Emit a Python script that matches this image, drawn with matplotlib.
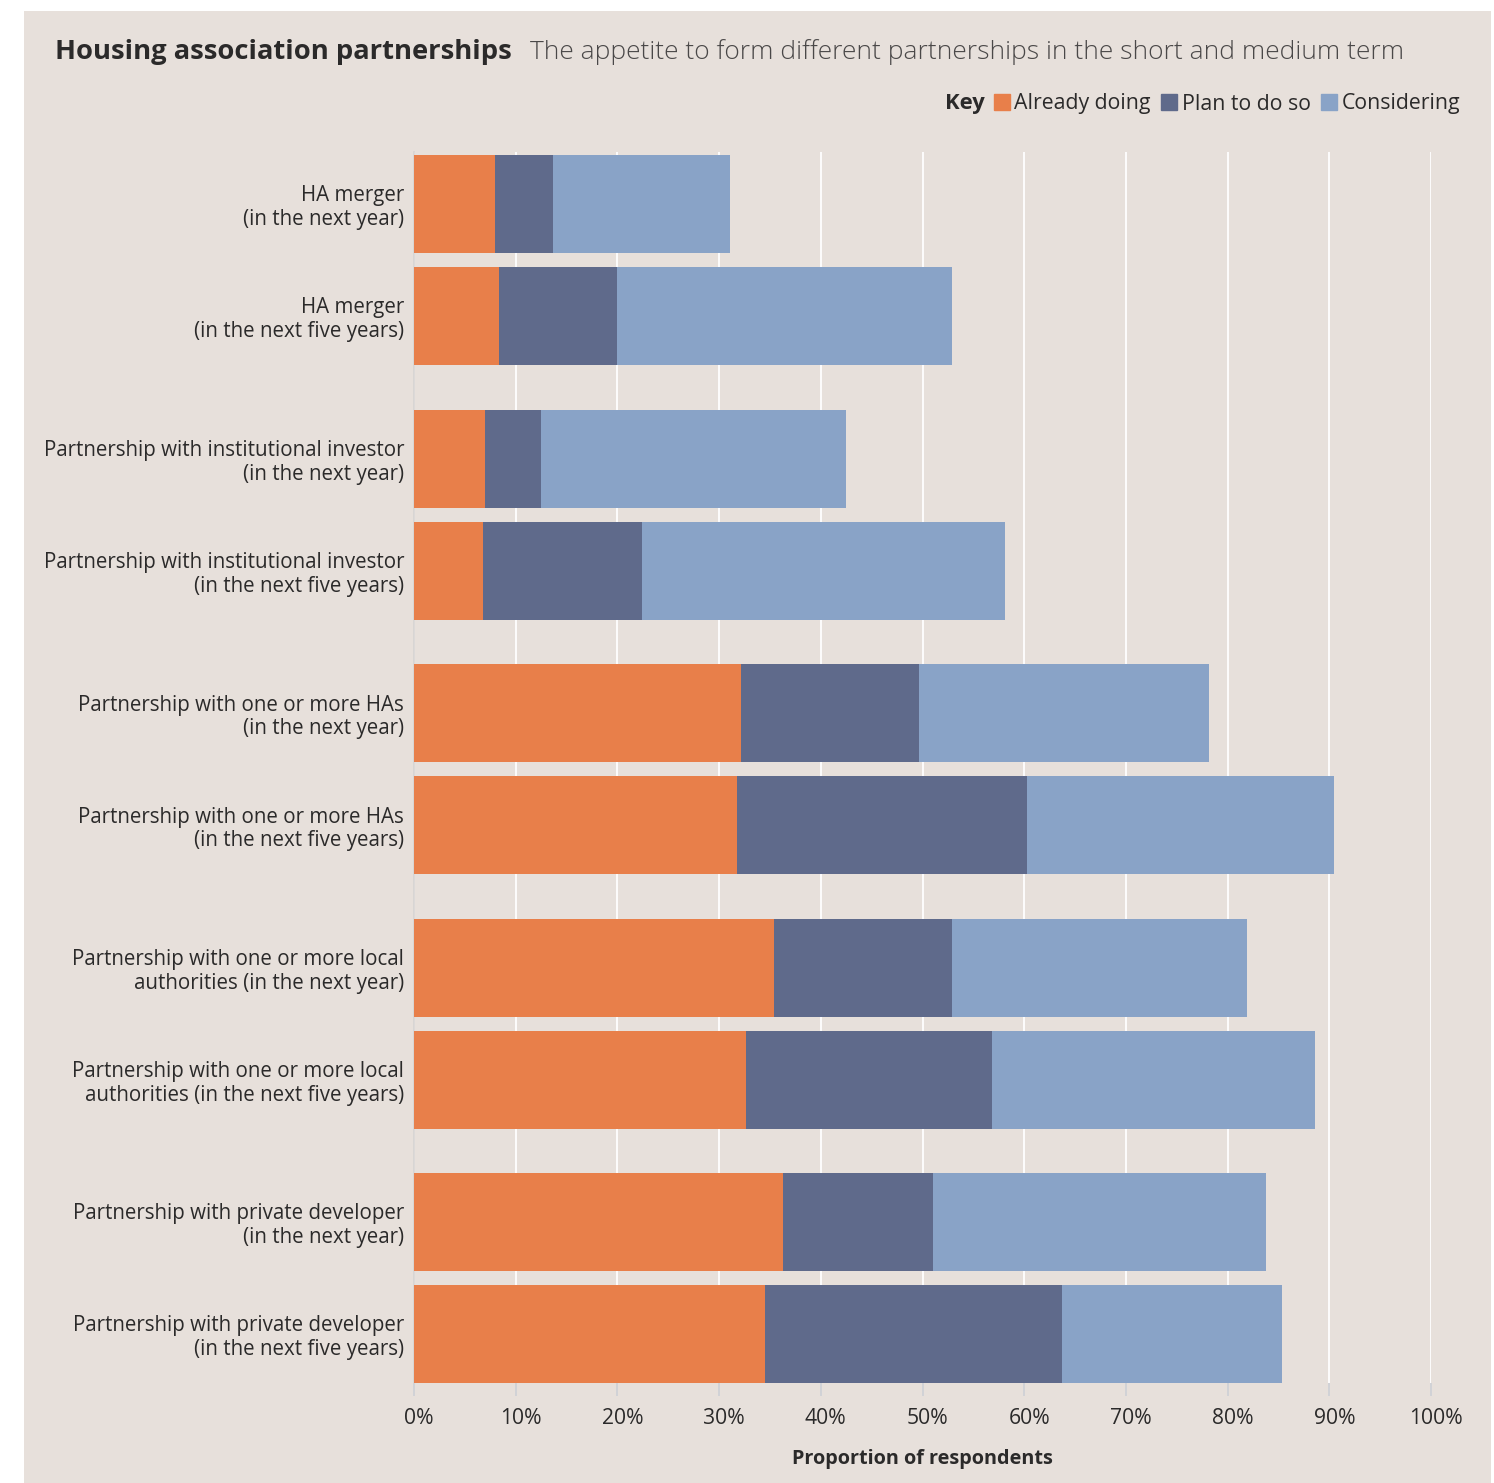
import matplotlib
matplotlib.use("Agg")
import matplotlib.pyplot as plt
import matplotlib.patches as mpatches
import matplotlib.transforms as mtrans
import numpy as np

plt.rcParams['font.family'] = ['Open Sans', 'DejaVu Sans']

# ---------------- data ----------------
categories = [
    "HA merger\n(in the next year)",
    "HA merger\n(in the next five years)",
    "Partnership with institutional investor\n(in the next year)",
    "Partnership with institutional investor\n(in the next five years)",
    "Partnership with one or more HAs\n(in the next year)",
    "Partnership with one or more HAs\n(in the next five years)",
    "Partnership with one or more local\nauthorities (in the next year)",
    "Partnership with one or more local\nauthorities (in the next five years)",
    "Partnership with private developer\n(in the next year)",
    "Partnership with private developer\n(in the next five years)",
]
already_doing = [8.0, 8.4, 7.0, 6.8, 32.2, 31.8, 35.4, 32.6, 36.3, 34.5]
plan_to_do    = [5.7, 11.6, 5.5, 15.6, 17.5, 28.5, 17.5, 24.2, 14.7, 29.2]
considering   = [17.4, 32.9, 30.0, 35.7, 28.5, 30.2, 29.0, 31.8, 32.8, 21.6]
series_names = ["Already doing", "Plan to do so", "Considering"]
tick_values = [0, 10, 20, 30, 40, 50, 60, 70, 80, 90, 100]
tick_labels = [f"{v}%" for v in tick_values]

colors = ["#e87f4a", "#5f6a8b", "#89a3c7"]
BG = "#e7e0db"
TXT = "#2b2a2a"

W, H = 1494, 1483
fig = plt.figure(figsize=(W / 100, H / 100), dpi=100)
fig.patch.set_facecolor("white")
bgax = fig.add_axes([24 / W, 0, (1491 - 24) / W, (H - 11) / H], zorder=-10)
bgax.set_facecolor(BG)
bgax.set_xticks([]); bgax.set_yticks([])
for s in bgax.spines.values():
    s.set_visible(False)

# axes area in pixels
ax_left, ax_right, ax_top, ax_bot = 414, 1431, 152, 1383
ax = fig.add_axes([ax_left / W, 1 - ax_bot / H, (ax_right - ax_left) / W, (ax_bot - ax_top) / H])
ax.set_facecolor("none")

# layout: pairs of bars
pair_pitch, bar_pitch, first_center, bar_h = 254.5, 112, 204, 98
n = len(categories)
ypos = np.array([first_center + (k // 2) * pair_pitch + (k % 2) * bar_pitch for k in range(n)])

left = np.zeros(n)
for vals, c, name in zip([already_doing, plan_to_do, considering], colors, series_names):
    ax.barh(ypos, vals, left=left, height=bar_h, color=c, label=name, zorder=3, linewidth=0)
    left += np.array(vals)

ax.set_xlim(0, 100)
ax.set_ylim(ax_bot, ax_top)

ax.set_yticks(ypos)
ax.set_yticklabels(categories, fontsize=14.8, color=TXT, linespacing=1.17)
ax.tick_params(axis="y", length=0, pad=7.2)

ax.set_xticks(tick_values)
ax.set_xticklabels(tick_labels, fontsize=15.2, color=TXT)
ax.tick_params(axis="x", length=9, width=1.2, color="#cdd0d6", pad=9)
offset = mtrans.ScaledTranslation(5 / 100, 0, fig.dpi_scale_trans)
for lbl in ax.get_xticklabels():
    lbl.set_transform(lbl.get_transform() + offset)

ax.grid(axis="x", color="white", linewidth=1.3, zorder=1)
ax.set_axisbelow(True)
for s in ["top", "right", "bottom"]:
    ax.spines[s].set_visible(False)
ax.spines["left"].set_color("#d6d3d2")
ax.spines["left"].set_linewidth(1.2)

ax.set_xlabel("Proportion of respondents", fontsize=14.3, fontweight="bold", color=TXT, labelpad=14.5)

# title and subtitle
t = fig.text(55 / W, 1 - 52 / H, "Housing association partnerships", fontsize=19.7,
             fontweight="bold", color=TXT, va="center", ha="left")
fig.canvas.draw()
bb = t.get_window_extent()
fig.text((bb.x1 + 18) / W, 1 - 52 / H,
         "The appetite to form different partnerships in the short and medium term",
         fontsize=19, color="#4a4848", va="center", ha="left", fontweight="light")

# legend
handles = [mpatches.Patch(color=c) for c in colors]
leg = fig.legend(handles, series_names, ncol=3, loc="center right",
                 bbox_to_anchor=(1460 / W, 1 - 104 / H), frameon=False,
                 handlelength=0.75, handleheight=0.75, handletextpad=0.2,
                 columnspacing=0.5, borderpad=0, borderaxespad=0,
                 prop={"size": 15.3})
for txt in leg.get_texts():
    txt.set_color(TXT)
fig.canvas.draw()
lb = leg.get_window_extent()
fig.text((lb.x0 - 9) / W, 1 - 104 / H, "Key", fontsize=15.8, fontweight="bold",
         color=TXT, ha="right", va="center")

fig.savefig("out.png", dpi=100, facecolor=fig.get_facecolor())
